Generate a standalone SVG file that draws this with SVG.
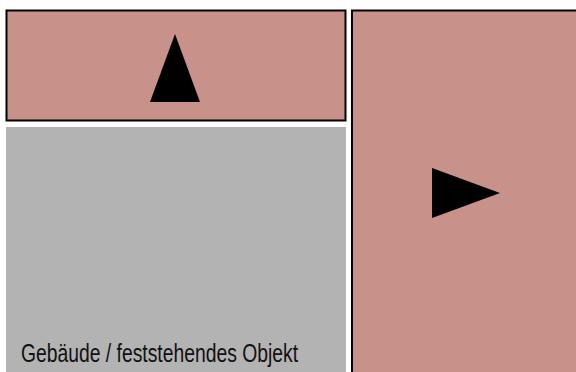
<svg xmlns="http://www.w3.org/2000/svg" width="576" height="372" viewBox="0 0 576 372">
<style>
.zone{fill:#c8928a;stroke:#000;stroke-width:2}
.arrow{fill:#000}
.lbl{font-family:"Liberation Sans","DejaVu Sans",sans-serif;font-size:25px;fill:#111}
</style>
<rect x="0" y="0" width="576" height="372" fill="#fff"/>
<g id="building">
<rect x="6" y="127" width="340" height="250" fill="#b3b3b3"/>
<text class="lbl" x="21" y="362" textLength="277" lengthAdjust="spacingAndGlyphs">Gebäude / feststehendes Objekt</text>
</g>
<g id="zone-top">
<rect class="zone" x="6.5" y="10.5" width="339" height="110"/>
<polygon class="arrow" points="175,34 200,102 150,102"/>
</g>
<g id="zone-right">
<rect class="zone" x="352" y="10.5" width="230" height="370"/>
<polygon class="arrow" points="432,168 500,193 432,218"/>
</g>
<g id="connectors"/>
</svg>
